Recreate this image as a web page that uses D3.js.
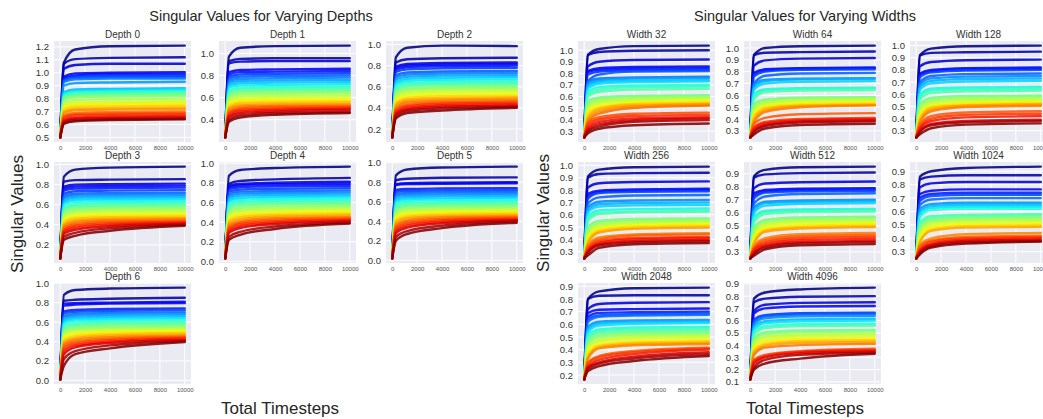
<!DOCTYPE html>
<html>
<head>
<meta charset="utf-8">
<script src="https://cdn.jsdelivr.net/npm/d3@7"></script>
<style>
body{margin:0;background:#fff;}
svg{display:block;font-family:"Liberation Sans",Arial,Helvetica,sans-serif;}
</style>
</head>
<body>
<svg id="chart" width="1043" height="419"></svg>
<script>
// ---------- DATA ----------
const timesteps = [0, 300, 1200, 4000, 10000];
const xTicks = [0, 2000, 4000, 6000, 8000, 10000];

const depthTitles = ["Depth 0","Depth 1","Depth 2","Depth 3","Depth 4","Depth 5","Depth 6"];
const depthStarts = [0.5, 0.24, 0.12, 0.065, 0.03, 0.02, 0.01];
const depthYTicks = [
  [0.5,0.6,0.7,0.8,0.9,1.0,1.1,1.2],
  [0.4,0.6,0.8,1.0],
  [0.2,0.4,0.6,0.8,1.0],
  [0.2,0.4,0.6,0.8,1.0],
  [0.0,0.2,0.4,0.6,0.8,1.0],
  [0.0,0.2,0.4,0.6,0.8,1.0],
  [0.0,0.2,0.4,0.6,0.8,1.0]
];

const widthTitles = ["Width 32","Width 64","Width 128","Width 256","Width 512","Width 1024","Width 2048","Width 4096"];
const widthStarts = [0.245, 0.245, 0.245, 0.245, 0.25, 0.25, 0.165, 0.12];
const widthYTicks = [
  [0.3,0.4,0.5,0.6,0.7,0.8,0.9,1.0],
  [0.3,0.4,0.5,0.6,0.7,0.8,0.9,1.0],
  [0.3,0.4,0.5,0.6,0.7,0.8,0.9,1.0],
  [0.3,0.4,0.5,0.6,0.7,0.8,0.9,1.0],
  [0.3,0.4,0.5,0.6,0.7,0.8,0.9],
  [0.3,0.4,0.5,0.6,0.7,0.8,0.9],
  [0.2,0.3,0.4,0.5,0.6,0.7,0.8,0.9],
  [0.1,0.2,0.3,0.4,0.5,0.6,0.7,0.8,0.9]
];

// each line: values at timesteps 300, 1200, 4000, 10000
const depth0 = [
[1.08,1.18,1.205,1.21],[1.07,1.105,1.115,1.12],[1.03,1.06,1.07,1.07],[0.97,0.995,1.0,1.005],
[0.96,0.98,0.99,0.99],[0.95,0.97,0.975,0.975],[0.94,0.96,0.965,0.965],[0.93,0.95,0.955,0.955],
[0.90,0.92,0.925,0.93],[0.85,0.87,0.875,0.88],[0.84,0.86,0.865,0.87],[0.83,0.85,0.855,0.86],
[0.82,0.84,0.845,0.85],[0.81,0.83,0.835,0.84],[0.80,0.82,0.825,0.83],[0.79,0.81,0.815,0.82],
[0.77,0.79,0.795,0.80],[0.75,0.77,0.775,0.78],[0.74,0.76,0.765,0.77],[0.73,0.75,0.755,0.76],
[0.715,0.735,0.74,0.745],[0.70,0.72,0.725,0.73],[0.69,0.71,0.715,0.72],[0.67,0.69,0.695,0.70],
[0.66,0.68,0.685,0.69],[0.65,0.67,0.675,0.68],[0.635,0.655,0.66,0.665],[0.625,0.645,0.65,0.655],
[0.615,0.635,0.64,0.645],[0.605,0.625,0.635,0.64]];
const depth1 = [
[0.97,1.05,1.065,1.07],[0.93,0.95,0.955,0.955],[0.91,0.925,0.93,0.93],[0.83,0.85,0.855,0.86],
[0.81,0.83,0.835,0.84],[0.79,0.81,0.815,0.82],[0.77,0.79,0.795,0.80],[0.75,0.77,0.775,0.78],
[0.73,0.75,0.755,0.76],[0.71,0.73,0.735,0.74],[0.69,0.71,0.715,0.72],[0.665,0.69,0.695,0.70],
[0.65,0.675,0.68,0.685],[0.635,0.66,0.665,0.67],[0.62,0.645,0.65,0.655],[0.60,0.63,0.635,0.64],
[0.58,0.61,0.615,0.62],[0.56,0.59,0.595,0.60],[0.545,0.575,0.58,0.585],[0.53,0.56,0.565,0.57],
[0.515,0.545,0.55,0.555],[0.50,0.53,0.535,0.54],[0.485,0.515,0.525,0.53],[0.47,0.50,0.515,0.52],
[0.455,0.49,0.50,0.51],[0.44,0.475,0.49,0.50],[0.425,0.46,0.475,0.49],[0.40,0.44,0.46,0.47],
[0.38,0.42,0.445,0.46]];
const depth2 = [
[0.88,0.97,0.99,0.985],[0.83,0.86,0.87,0.875],[0.79,0.815,0.825,0.83],[0.775,0.80,0.81,0.815],
[0.76,0.785,0.795,0.80],[0.74,0.765,0.775,0.78],[0.71,0.735,0.745,0.75],[0.69,0.715,0.725,0.73],
[0.67,0.695,0.705,0.71],[0.645,0.675,0.685,0.69],[0.625,0.655,0.665,0.67],[0.60,0.635,0.645,0.65],
[0.585,0.615,0.63,0.635],[0.57,0.60,0.615,0.62],[0.55,0.58,0.595,0.60],[0.53,0.565,0.58,0.585],
[0.515,0.55,0.565,0.57],[0.49,0.53,0.545,0.55],[0.47,0.51,0.525,0.53],[0.455,0.495,0.51,0.515],
[0.44,0.48,0.495,0.50],[0.42,0.465,0.48,0.49],[0.40,0.45,0.465,0.475],[0.385,0.43,0.45,0.46],
[0.37,0.415,0.44,0.45],[0.355,0.40,0.425,0.435],[0.34,0.385,0.41,0.42],[0.32,0.37,0.395,0.41],
[0.30,0.35,0.375,0.40]];
const depth3 = [
[0.88,0.95,0.97,0.98],[0.83,0.845,0.85,0.855],[0.78,0.80,0.805,0.81],[0.76,0.78,0.785,0.79],
[0.74,0.76,0.765,0.77],[0.71,0.735,0.74,0.745],[0.685,0.71,0.715,0.72],[0.665,0.69,0.695,0.70],
[0.64,0.67,0.675,0.68],[0.62,0.65,0.655,0.66],[0.60,0.63,0.635,0.64],[0.575,0.605,0.615,0.62],
[0.555,0.585,0.595,0.60],[0.535,0.57,0.58,0.585],[0.515,0.55,0.56,0.565],[0.495,0.53,0.545,0.55],
[0.475,0.51,0.525,0.53],[0.455,0.49,0.505,0.51],[0.435,0.475,0.49,0.495],[0.42,0.46,0.475,0.48],
[0.40,0.44,0.46,0.465],[0.385,0.425,0.445,0.455],[0.365,0.405,0.43,0.44],[0.345,0.39,0.415,0.43],
[0.33,0.37,0.40,0.42],[0.31,0.35,0.385,0.41],[0.28,0.32,0.365,0.40],[0.25,0.29,0.34,0.39]];
const depth4 = [
[0.87,0.93,0.95,0.965],[0.79,0.82,0.835,0.85],[0.77,0.79,0.80,0.81],[0.755,0.775,0.785,0.79],
[0.735,0.755,0.765,0.77],[0.71,0.73,0.74,0.745],[0.685,0.71,0.715,0.72],[0.665,0.69,0.695,0.70],
[0.64,0.67,0.675,0.68],[0.62,0.645,0.655,0.66],[0.60,0.625,0.635,0.64],[0.575,0.605,0.615,0.62],
[0.555,0.585,0.595,0.60],[0.535,0.565,0.58,0.585],[0.51,0.545,0.56,0.565],[0.49,0.525,0.54,0.55],
[0.47,0.505,0.52,0.53],[0.45,0.485,0.50,0.51],[0.43,0.47,0.485,0.495],[0.41,0.45,0.47,0.48],
[0.39,0.43,0.455,0.465],[0.37,0.41,0.44,0.45],[0.35,0.395,0.425,0.44],[0.33,0.38,0.41,0.43],
[0.31,0.36,0.395,0.42],[0.29,0.34,0.38,0.41],[0.25,0.30,0.355,0.395],[0.22,0.27,0.33,0.385]];
const depth5 = [
[0.87,0.93,0.95,0.96],[0.82,0.835,0.845,0.85],[0.78,0.79,0.795,0.80],[0.77,0.78,0.785,0.79],
[0.72,0.73,0.735,0.74],[0.70,0.71,0.715,0.72],[0.675,0.69,0.695,0.70],[0.655,0.67,0.675,0.68],
[0.63,0.65,0.655,0.66],[0.61,0.63,0.635,0.64],[0.59,0.61,0.615,0.62],[0.565,0.59,0.595,0.60],
[0.545,0.57,0.575,0.58],[0.525,0.55,0.56,0.565],[0.505,0.535,0.545,0.55],[0.485,0.515,0.525,0.53],
[0.465,0.50,0.51,0.515],[0.445,0.48,0.495,0.50],[0.425,0.465,0.48,0.49],[0.405,0.445,0.465,0.475],
[0.385,0.43,0.45,0.46],[0.365,0.41,0.44,0.45],[0.345,0.395,0.425,0.44],[0.325,0.375,0.41,0.43],
[0.30,0.355,0.395,0.42],[0.28,0.335,0.38,0.41],[0.24,0.30,0.355,0.40],[0.20,0.27,0.33,0.385]];
const depth6 = [
[0.88,0.93,0.945,0.955],[0.82,0.83,0.84,0.85],[0.79,0.795,0.80,0.81],[0.77,0.78,0.79,0.795],
[0.71,0.725,0.735,0.74],[0.69,0.705,0.715,0.72],[0.665,0.685,0.695,0.70],[0.645,0.665,0.675,0.68],
[0.62,0.645,0.655,0.66],[0.60,0.625,0.635,0.64],[0.58,0.605,0.615,0.62],[0.555,0.58,0.595,0.60],
[0.535,0.56,0.575,0.58],[0.515,0.54,0.555,0.56],[0.495,0.525,0.54,0.545],[0.475,0.51,0.525,0.53],
[0.455,0.49,0.505,0.515],[0.435,0.47,0.49,0.50],[0.415,0.455,0.475,0.49],[0.395,0.435,0.46,0.475],
[0.375,0.42,0.445,0.46],[0.355,0.40,0.43,0.45],[0.33,0.38,0.415,0.44],[0.30,0.36,0.40,0.43],
[0.27,0.34,0.385,0.415],[0.22,0.30,0.36,0.405],[0.15,0.27,0.33,0.395]];

const width32 = [
[0.96,1.01,1.035,1.04],[0.96,0.985,0.995,1.0],[0.86,0.90,0.915,0.92],[0.82,0.845,0.855,0.86],
[0.81,0.83,0.84,0.845],[0.79,0.815,0.825,0.83],[0.73,0.79,0.815,0.82],[0.73,0.755,0.765,0.77],
[0.71,0.74,0.755,0.76],[0.69,0.725,0.735,0.74],[0.67,0.71,0.725,0.73],[0.64,0.68,0.695,0.70],
[0.62,0.66,0.68,0.685],[0.60,0.64,0.66,0.665],[0.56,0.59,0.605,0.61],[0.54,0.575,0.595,0.60],
[0.52,0.56,0.58,0.59],[0.50,0.545,0.565,0.575],[0.48,0.53,0.555,0.565],[0.46,0.51,0.54,0.55],
[0.44,0.50,0.535,0.545],[0.42,0.49,0.525,0.535],[0.40,0.47,0.515,0.53],[0.38,0.45,0.50,0.52],
[0.37,0.42,0.45,0.46],[0.35,0.40,0.43,0.44],[0.33,0.38,0.41,0.42],[0.31,0.36,0.395,0.41],
[0.30,0.34,0.38,0.395],[0.28,0.32,0.35,0.365]];
const width64 = [
[0.94,1.0,1.015,1.02],[0.94,0.96,0.965,0.97],[0.85,0.895,0.91,0.915],[0.79,0.82,0.83,0.835],
[0.78,0.81,0.825,0.83],[0.76,0.80,0.815,0.82],[0.70,0.765,0.785,0.79],[0.69,0.73,0.74,0.745],
[0.67,0.72,0.735,0.74],[0.65,0.70,0.715,0.72],[0.61,0.65,0.66,0.665],[0.59,0.64,0.655,0.66],
[0.57,0.625,0.64,0.645],[0.53,0.565,0.58,0.585],[0.51,0.555,0.575,0.58],[0.49,0.54,0.56,0.57],
[0.47,0.525,0.55,0.56],[0.45,0.51,0.535,0.545],[0.43,0.50,0.525,0.535],[0.41,0.49,0.515,0.525],
[0.39,0.475,0.51,0.52],[0.37,0.46,0.50,0.515],[0.36,0.41,0.44,0.45],[0.33,0.375,0.40,0.41],
[0.32,0.365,0.39,0.40],[0.30,0.35,0.38,0.39],[0.29,0.34,0.37,0.38],[0.27,0.32,0.35,0.36]];
const width128 = [
[0.92,0.975,0.995,1.0],[0.92,0.94,0.945,0.95],[0.83,0.865,0.88,0.885],[0.77,0.80,0.815,0.82],
[0.76,0.79,0.805,0.81],[0.74,0.78,0.795,0.80],[0.70,0.75,0.765,0.77],[0.68,0.73,0.745,0.75],
[0.66,0.71,0.725,0.73],[0.64,0.69,0.705,0.71],[0.60,0.645,0.655,0.66],[0.58,0.63,0.64,0.645],
[0.56,0.61,0.625,0.63],[0.52,0.57,0.585,0.59],[0.50,0.555,0.575,0.58],[0.48,0.54,0.56,0.565],
[0.46,0.525,0.545,0.55],[0.44,0.51,0.53,0.54],[0.42,0.50,0.52,0.53],[0.40,0.49,0.51,0.52],
[0.38,0.475,0.505,0.515],[0.37,0.46,0.495,0.505],[0.35,0.42,0.45,0.46],[0.33,0.40,0.43,0.44],
[0.32,0.38,0.41,0.42],[0.30,0.355,0.38,0.39],[0.29,0.345,0.37,0.38],[0.27,0.32,0.35,0.36]];
const width256 = [
[0.91,0.965,0.985,0.99],[0.90,0.93,0.937,0.94],[0.82,0.855,0.865,0.87],[0.77,0.795,0.805,0.81],
[0.75,0.785,0.795,0.80],[0.73,0.775,0.785,0.79],[0.69,0.74,0.755,0.76],[0.66,0.705,0.715,0.72],
[0.64,0.685,0.695,0.70],[0.62,0.665,0.675,0.68],[0.59,0.635,0.645,0.65],[0.57,0.615,0.625,0.63],
[0.55,0.605,0.62,0.625],[0.50,0.55,0.565,0.57],[0.48,0.535,0.555,0.56],[0.46,0.52,0.54,0.55],
[0.44,0.505,0.525,0.535],[0.42,0.495,0.515,0.525],[0.40,0.48,0.505,0.515],[0.38,0.465,0.495,0.505],
[0.37,0.455,0.485,0.495],[0.35,0.415,0.44,0.45],[0.34,0.40,0.43,0.44],[0.32,0.385,0.41,0.42],
[0.31,0.37,0.40,0.41],[0.30,0.36,0.385,0.395],[0.29,0.35,0.375,0.385],[0.27,0.33,0.36,0.37]];
const width512 = [
[0.88,0.93,0.95,0.955],[0.87,0.895,0.905,0.91],[0.79,0.825,0.835,0.84],[0.75,0.775,0.785,0.79],
[0.73,0.765,0.775,0.78],[0.71,0.755,0.765,0.77],[0.67,0.725,0.745,0.75],[0.64,0.685,0.695,0.70],
[0.62,0.675,0.685,0.69],[0.60,0.655,0.67,0.675],[0.57,0.615,0.625,0.63],[0.55,0.605,0.615,0.62],
[0.53,0.59,0.605,0.61],[0.49,0.545,0.565,0.57],[0.47,0.535,0.555,0.56],[0.45,0.52,0.54,0.545],
[0.43,0.505,0.53,0.535],[0.41,0.49,0.515,0.52],[0.39,0.475,0.50,0.51],[0.37,0.465,0.49,0.50],
[0.36,0.455,0.48,0.49],[0.34,0.405,0.435,0.445],[0.33,0.39,0.42,0.43],[0.32,0.375,0.405,0.415],
[0.31,0.36,0.39,0.40],[0.29,0.345,0.375,0.385],[0.285,0.335,0.365,0.375],[0.27,0.32,0.35,0.36]];
const width1024 = [
[0.86,0.90,0.925,0.935],[0.84,0.86,0.87,0.87],[0.78,0.81,0.82,0.82],[0.73,0.755,0.765,0.765],
[0.70,0.73,0.74,0.74],[0.68,0.715,0.725,0.725],[0.65,0.69,0.70,0.70],[0.62,0.655,0.665,0.665],
[0.60,0.64,0.65,0.65],[0.58,0.625,0.635,0.635],[0.56,0.61,0.62,0.62],[0.52,0.565,0.575,0.58],
[0.50,0.55,0.565,0.57],[0.48,0.535,0.55,0.555],[0.46,0.525,0.54,0.545],[0.44,0.51,0.53,0.535],
[0.42,0.495,0.515,0.52],[0.40,0.48,0.50,0.505],[0.38,0.465,0.49,0.495],[0.37,0.455,0.48,0.485],
[0.35,0.40,0.43,0.44],[0.34,0.385,0.41,0.42],[0.32,0.375,0.40,0.41],[0.31,0.36,0.39,0.40],
[0.30,0.35,0.38,0.39],[0.29,0.34,0.37,0.38],[0.28,0.33,0.36,0.375]];
const width2048 = [
[0.80,0.86,0.885,0.89],[0.80,0.825,0.83,0.83],[0.72,0.76,0.77,0.775],[0.69,0.715,0.72,0.725],
[0.66,0.69,0.695,0.70],[0.64,0.67,0.68,0.685],[0.62,0.66,0.67,0.675],[0.58,0.62,0.63,0.635],
[0.56,0.605,0.615,0.62],[0.54,0.59,0.605,0.61],[0.52,0.56,0.575,0.58],[0.50,0.545,0.56,0.565],
[0.48,0.53,0.545,0.55],[0.46,0.51,0.53,0.535],[0.44,0.495,0.515,0.52],[0.42,0.475,0.50,0.505],
[0.40,0.46,0.485,0.495],[0.38,0.44,0.465,0.475],[0.36,0.43,0.455,0.465],[0.34,0.42,0.445,0.455],
[0.33,0.41,0.435,0.445],[0.30,0.35,0.39,0.415],[0.29,0.34,0.38,0.41],[0.27,0.32,0.365,0.40],
[0.26,0.30,0.345,0.38],[0.25,0.29,0.33,0.365],[0.23,0.27,0.31,0.35]];
const width4096 = [
[0.78,0.83,0.855,0.87],[0.75,0.78,0.795,0.80],[0.68,0.73,0.745,0.75],[0.66,0.70,0.715,0.72],
[0.61,0.645,0.66,0.665],[0.59,0.635,0.65,0.655],[0.57,0.62,0.635,0.64],[0.55,0.595,0.61,0.615],
[0.53,0.58,0.595,0.60],[0.51,0.555,0.57,0.575],[0.49,0.54,0.555,0.56],[0.46,0.505,0.52,0.525],
[0.44,0.49,0.505,0.51],[0.42,0.47,0.485,0.49],[0.40,0.45,0.47,0.475],[0.38,0.43,0.45,0.455],
[0.36,0.41,0.435,0.44],[0.34,0.395,0.42,0.425],[0.32,0.38,0.40,0.41],[0.28,0.32,0.35,0.37],
[0.27,0.31,0.345,0.36],[0.25,0.30,0.335,0.35],[0.22,0.28,0.32,0.34],[0.20,0.25,0.29,0.33]];

const depthSeries = [depth0, depth1, depth2, depth3, depth4, depth5, depth6];
const widthSeries = [width32, width64, width128, width256, width512, width1024, width2048, width4096];

// ---------- STYLE / LAYOUT ----------
const svg = d3.select("#chart");
const PW = 137, PH = 101;
const leftCols = [54, 219, 386], rightCols = [578, 744, 910];
const rows = [41, 162, 283];

// matplotlib "jet" colormap
const jetR = d3.scaleLinear().domain([0,0.35,0.66,0.89,1]).range([0,0,1,1,0.5]).clamp(true);
const jetG = d3.scaleLinear().domain([0,0.125,0.375,0.64,0.91,1]).range([0,0,1,1,0,0]).clamp(true);
const jetB = d3.scaleLinear().domain([0,0.11,0.34,0.65,1]).range([0.5,1,1,0,0]).clamp(true);
const jet = t => d3.rgb(jetR(t)*255, jetG(t)*255, jetB(t)*255).toString();

const fmt = d3.format(".1f");

function drawPanel(x0, y0, title, start, lines, yticks) {
  const g = svg.append("g").attr("transform", `translate(${x0},${y0})`);
  const allVals = [start].concat(lines.flat());
  const [mn, mx] = d3.extent(allVals);
  const pad = (mx - mn) * 0.05;
  const x = d3.scaleLinear().domain([-500, 10500]).range([0, PW]);
  const y = d3.scaleLinear().domain([mn - pad, mx + pad]).range([PH, 0]);

  g.append("rect").attr("width", PW).attr("height", PH).attr("fill", "#EAEAF2");

  // grid
  g.selectAll(".vg").data(xTicks).join("line")
    .attr("x1", d => x(d)).attr("x2", d => x(d)).attr("y1", 0).attr("y2", PH)
    .attr("stroke", "#fff").attr("stroke-width", 1);
  g.selectAll(".hg").data(yticks).join("line")
    .attr("y1", d => y(d)).attr("y2", d => y(d)).attr("x1", 0).attr("x2", PW)
    .attr("stroke", "#fff").attr("stroke-width", 1);

  const clipId = "c" + Math.round(x0) + "_" + Math.round(y0);
  g.append("clipPath").attr("id", clipId).append("rect").attr("width", PW).attr("height", PH);

  const line = d3.line().x(d => x(d[0])).y(d => y(d[1])).curve(d3.curveMonotoneX);
  const n = lines.length;
  const lg = g.append("g").attr("clip-path", `url(#${clipId})`);
  lines.forEach((vals, i) => {
    const pts = timesteps.map((t, k) => [t, k === 0 ? start : vals[k - 1]]);
    lg.append("path").attr("d", line(pts)).attr("fill", "none")
      .attr("stroke", jet(i / (n - 1))).attr("stroke-width", 2.4)
      .attr("stroke-opacity", 0.88).attr("stroke-linecap", "round");
  });

  // axes
  const xa = g.append("g").attr("transform", `translate(0,${PH})`)
    .call(d3.axisBottom(x).tickValues(xTicks).tickSize(0).tickPadding(4).tickFormat(d3.format("d")));
  xa.select(".domain").remove();
  xa.selectAll("text").attr("font-size", 6).attr("fill", "#555").attr("font-family", "Liberation Sans, Arial, sans-serif");

  const ya = g.append("g")
    .call(d3.axisLeft(y).tickValues(yticks).tickSize(0).tickPadding(5).tickFormat(fmt));
  ya.select(".domain").remove();
  ya.selectAll("text").attr("font-size", 9.5).attr("fill", "#333").attr("font-family", "Liberation Sans, Arial, sans-serif");

  g.append("text").attr("x", PW / 2).attr("y", -3.5).attr("text-anchor", "middle")
    .attr("font-size", 10).attr("fill", "#333").text(title);
}

depthSeries.forEach((lines, i) => {
  drawPanel(leftCols[i % 3], rows[Math.floor(i / 3)], depthTitles[i], depthStarts[i], lines, depthYTicks[i]);
});
widthSeries.forEach((lines, i) => {
  drawPanel(rightCols[i % 3], rows[Math.floor(i / 3)], widthTitles[i], widthStarts[i], lines, widthYTicks[i]);
});

// figure texts
function txt(x, y, s, size, rot) {
  const t = svg.append("text").attr("text-anchor", "middle").attr("font-size", size).attr("fill", "#262626").text(s);
  if (rot) t.attr("transform", `translate(${x},${y}) rotate(-90)`);
  else t.attr("x", x).attr("y", y);
}
txt(261, 21, "Singular Values for Varying Depths", 14.5);
txt(805, 21, "Singular Values for Varying Widths", 14.5);
txt(23, 214, "Singular Values", 17, true);
txt(549, 213, "Singular Values", 17, true);
txt(280, 414, "Total Timesteps", 17);
txt(805, 414, "Total Timesteps", 17);
</script>
</body>
</html>
